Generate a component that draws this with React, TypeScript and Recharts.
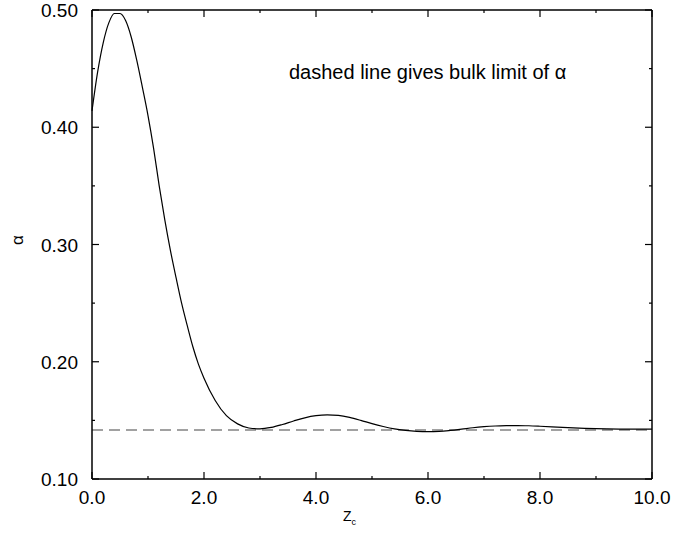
import { LineChart, Line, XAxis, YAxis, ReferenceLine } from "recharts";

// z_c positions and alpha values
const zc = [
  0, 0.1, 0.2, 0.3, 0.4, 0.5, 0.6, 0.7, 0.8, 0.9, 1.0, 1.1, 1.2, 1.3, 1.4, 1.5, 1.6, 1.7, 1.8, 1.9,
  2.0, 2.2, 2.4, 2.6, 2.8, 3.0, 3.2, 3.4, 3.6, 3.8, 4.0, 4.2, 4.4, 4.6, 4.8, 5.0, 5.2, 5.4, 5.6,
  5.8, 6.0, 6.2, 6.4, 6.6, 6.8, 7.0, 7.2, 7.4, 7.6, 7.8, 8.0, 8.4, 8.8, 9.2, 9.6, 10.0,
];
const alpha = [
  0.414, 0.447, 0.472, 0.489, 0.497, 0.497, 0.491, 0.477, 0.457, 0.434, 0.41, 0.382, 0.35, 0.321,
  0.295, 0.272, 0.25, 0.231, 0.213, 0.198, 0.186, 0.167, 0.154, 0.147, 0.1435, 0.1428, 0.144,
  0.1465, 0.1495, 0.1522, 0.154, 0.1547, 0.1542, 0.1525, 0.15, 0.1472, 0.1448, 0.1428, 0.1415,
  0.1407, 0.1404, 0.1406, 0.1414, 0.1425, 0.1437, 0.1446, 0.1452, 0.1455, 0.1456, 0.1454, 0.145,
  0.144, 0.1432, 0.1427, 0.1425, 0.1425,
];
const bulkLimit = 0.1418;

const xTicks = [0, 1, 2, 3, 4, 5, 6, 7, 8, 9, 10];
const yTicks = [0.1, 0.15, 0.2, 0.25, 0.3, 0.35, 0.4, 0.45, 0.5];

const data = zc.map((z, i) => ({ z, a: alpha[i] }));

const FONT = "'Liberation Sans', Arial, Helvetica, sans-serif";

const isMajorX = (v: number) => Math.round(v) % 2 === 0;
const isMajorY = (v: number) => Math.round(v * 100) % 10 === 0;

// inward ticks, labels only on the bottom/left axes
function BottomTick(props: any) {
  const { x, y, payload } = props;
  const v = payload.value;
  const len = isMajorX(v) ? 7 : 3;
  return (
    <g>
      <line x1={x} y1={y} x2={x} y2={y - len} stroke="#000" strokeWidth={1.2} />
      {isMajorX(v) && (
        <text x={x} y={y + 25} textAnchor="middle" fontSize={19} fontFamily={FONT} fill="#000">
          {v.toFixed(1)}
        </text>
      )}
    </g>
  );
}

function TopTick(props: any) {
  const { x, y, payload } = props;
  const len = isMajorX(payload.value) ? 7 : 3;
  return <line x1={x} y1={y} x2={x} y2={y + len} stroke="#000" strokeWidth={1.2} />;
}

function LeftTick(props: any) {
  const { x, y, payload } = props;
  const v = payload.value;
  const len = isMajorY(v) ? 7 : 3;
  return (
    <g>
      <line x1={x} y1={y} x2={x + len} y2={y} stroke="#000" strokeWidth={1.2} />
      {isMajorY(v) && (
        <text x={x - 14} y={y + 7} textAnchor="end" fontSize={19} fontFamily={FONT} fill="#000">
          {v.toFixed(2)}
        </text>
      )}
    </g>
  );
}

function RightTick(props: any) {
  const { x, y, payload } = props;
  const len = isMajorY(payload.value) ? 7 : 3;
  return <line x1={x} y1={y} x2={x - len} y2={y} stroke="#000" strokeWidth={1.2} />;
}

export default function App() {
  const axisLine = { stroke: "#000", strokeWidth: 1.5 };
  return (
    <div style={{ position: "absolute", left: 0, top: 0, width: 673, height: 535, background: "#fff", fontFamily: FONT }}>
      <LineChart width={673} height={535} data={data} margin={{ top: 9, right: 20, left: 0, bottom: 0 }}>
        <XAxis
          dataKey="z"
          type="number"
          domain={[0, 10]}
          ticks={xTicks}
          height={56}
          axisLine={axisLine}
          tickLine={false}
          tickSize={0}
          tickMargin={0}
          tick={<BottomTick />}
          interval={0}
        />
        <XAxis
          xAxisId="top"
          dataKey="z"
          orientation="top"
          type="number"
          domain={[0, 10]}
          ticks={xTicks}
          height={1}
          axisLine={axisLine}
          tickLine={false}
          tickSize={0}
          tickMargin={0}
          tick={<TopTick />}
          interval={0}
        />
        <YAxis
          type="number"
          domain={[0.1, 0.5]}
          ticks={yTicks}
          width={92}
          axisLine={axisLine}
          tickLine={false}
          tickSize={0}
          tickMargin={0}
          tick={<LeftTick />}
          interval={0}
          allowDataOverflow
        />
        <YAxis
          yAxisId="right"
          orientation="right"
          type="number"
          domain={[0.1, 0.5]}
          ticks={yTicks}
          width={1}
          axisLine={axisLine}
          tickLine={false}
          tickSize={0}
          tickMargin={0}
          tick={<RightTick />}
          interval={0}
          allowDataOverflow
        />
        <ReferenceLine y={bulkLimit} stroke="#444" strokeWidth={1.1} strokeDasharray="11 6" />
        <Line
          type="monotone"
          dataKey="a"
          stroke="#000"
          strokeWidth={1.2}
          dot={false}
          isAnimationActive={false}
        />
        {/* invisible twin so the top/right frame axes get drawn */}
        <Line
          xAxisId="top"
          yAxisId="right"
          type="monotone"
          dataKey="a"
          stroke="none"
          dot={false}
          activeDot={false}
          legendType="none"
          isAnimationActive={false}
        />
      </LineChart>
      <div style={{ position: "absolute", left: 289, top: 61, fontSize: 20, lineHeight: "22px", whiteSpace: "nowrap", color: "#000" }}>
        dashed line gives bulk limit of α
      </div>
      <div style={{ position: "absolute", left: 343, top: 508, fontSize: 14, lineHeight: "16px", color: "#000" }}>
        Z<sub style={{ fontSize: 9 }}>c</sub>
      </div>
      <div
        style={{
          position: "absolute",
          left: 8,
          top: 230,
          width: 20,
          height: 20,
          fontSize: 17,
          lineHeight: "20px",
          textAlign: "center",
          transform: "rotate(-90deg)",
          color: "#000",
        }}
      >
        α
      </div>
    </div>
  );
}
